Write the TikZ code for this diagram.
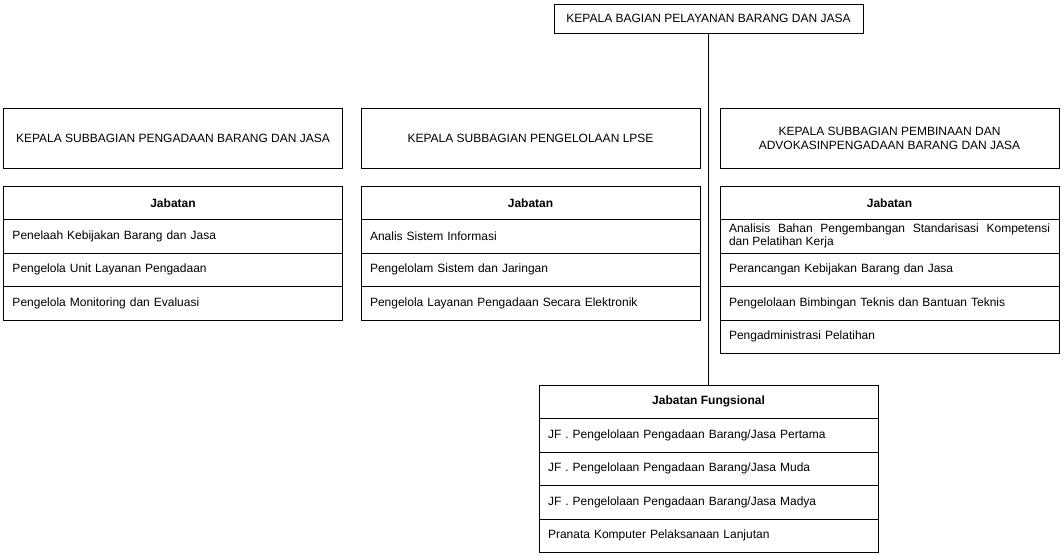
\documentclass[tikz,border=0pt]{standalone}
\usepackage{fontspec}
\setmainfont{Liberation Sans}
\usetikzlibrary{positioning}
\newcommand{\teks}{\fontsize{12}{14}\selectfont}

\begin{document}
\begin{tikzpicture}[x=1pt,y=-1pt,line width=1pt,
  kepala/.style={draw,outer sep=0pt,inner sep=0pt,minimum width=339pt,minimum height=60pt,align=center,font=\teks},
  judul/.style={draw,outer sep=0pt,inner sep=0pt,minimum width=339pt,minimum height=33.5pt,anchor=north,font=\bfseries\teks},
  baris/.style={draw,outer sep=0pt,inner xsep=9pt,inner ysep=0pt,text width=321pt,minimum height=33.5pt,align=left,font=\teks}]
      \useasboundingbox (0,0) rectangle (1064,557);
      \def\ka{173} \def\kb{530.5} \def\kc{889.5} \def\kd{708.5}
      % kepala bagian
      \node[kepala,minimum width=309pt,minimum height=29pt] (kabag) at (\kd,18.5) {KEPALA BAGIAN PELAYANAN BARANG DAN JASA};
      % kepala subbagian
      \node[kepala] (subA) at (\ka,138) {KEPALA SUBBAGIAN PENGADAAN BARANG DAN JASA};
      \node[kepala] (subB) at (\kb,138) {KEPALA SUBBAGIAN PENGELOLAAN LPSE};
      \node[kepala] (subC) at (\kc,138) {KEPALA SUBBAGIAN PEMBINAAN DAN\\ADVOKASINPENGADAAN BARANG DAN JASA};
      % jabatan subbagian pengadaan
      \node[judul] (jabA) at (\ka,186) {Jabatan};
      \node[baris,below=0pt of jabA] (jabA1) {Penelaah Kebijakan Barang dan Jasa};
      \node[baris,below=0pt of jabA1] (jabA2) {Pengelola Unit Layanan Pengadaan};
      \node[baris,below=0pt of jabA2] (jabA3) {Pengelola Monitoring dan Evaluasi};
      % jabatan subbagian lpse
      \node[judul] (jabB) at (\kb,186) {Jabatan};
      \node[baris,below=0pt of jabB] (jabB1) {Analis Sistem Informasi};
      \node[baris,below=0pt of jabB1] (jabB2) {Pengelolam Sistem dan Jaringan};
      \node[baris,below=0pt of jabB2] (jabB3) {Pengelola Layanan Pengadaan Secara Elektronik};
      % jabatan subbagian pembinaan
      \node[judul] (jabC) at (\kc,186) {Jabatan};
      \node[baris,below=0pt of jabC,align=justify,font=\fontsize{12}{13}\selectfont] (jabC1) {Analisis Bahan Pengembangan Standarisasi Kompetensi\linebreak dan Pelatihan Kerja};
      \node[baris,below=0pt of jabC1] (jabC2) {Perancangan Kebijakan Barang dan Jasa};
      \node[baris,below=0pt of jabC2] (jabC3) {Pengelolaan Bimbingan Teknis dan Bantuan Teknis};
      \node[baris,below=0pt of jabC3] (jabC4) {Pengadministrasi Pelatihan};
      % jabatan fungsional
      \node[judul] (jf) at (\kd,385) {Jabatan Fungsional};
      \node[baris,below=0pt of jf] (jf1) {JF . Pengelolaan Pengadaan Barang/Jasa Pertama};
      \node[baris,below=0pt of jf1] (jf2) {JF . Pengelolaan Pengadaan Barang/Jasa Muda};
      \node[baris,below=0pt of jf2] (jf3) {JF . Pengelolaan Pengadaan Barang/Jasa Madya};
      \node[baris,below=0pt of jf3] (jf4) {Pranata Komputer Pelaksanaan Lanjutan};
      \draw (kabag) -- (jf);
     \end{tikzpicture}
\end{document}
